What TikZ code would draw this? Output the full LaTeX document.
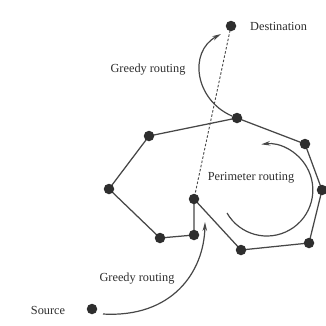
\documentclass[tikz,border=0pt]{standalone}
\usepackage{fontspec}
\setmainfont{Liberation Serif}
\usetikzlibrary{arrows.meta}
\definecolor{ink}{HTML}{2E2E2E}
\definecolor{edgec}{HTML}{474747}
\tikzset{
  pt/.style={circle,fill=ink,inner sep=0pt,minimum size=10.5pt},
  lbl/.style={font=\fontsize{12.3}{14}\selectfont,text=ink,inner sep=0pt},
  edge/.style={draw=edgec,line width=1.25pt},
  route/.style={draw=edgec,line width=1.2pt,-{Stealth[length=9pt,width=4.5pt]}},
  dashline/.style={draw=edgec,line width=0.9pt,dash pattern=on 2.5pt off 1.8pt}
}
\begin{document}
\begin{tikzpicture}[x=1pt,y=-1pt]
\useasboundingbox (0,0) rectangle (326,325);
\fill[white] (0,0) rectangle (326,325);
% nodes
\coordinate (dst) at (231,26);
\coordinate (top) at (237,118);
\coordinate (lu) at (149,136);
\coordinate (r1) at (305,144);
\coordinate (r2) at (322,190);
\coordinate (l) at (109,189);
\coordinate (mu) at (194,199);
\coordinate (ml) at (194,235);
\coordinate (bl) at (160,238);
\coordinate (b) at (241,250);
\coordinate (br) at (309,243);
\coordinate (src) at (92,309);
% edges
\draw[edge] (lu) -- (top) -- (r1) -- (r2) -- (br) -- (b) -- (mu) -- (ml) -- (bl) -- (l) -- (lu);
\draw[dashline] (dst) -- (mu);
% dots
\foreach \p in {dst,top,lu,r1,r2,l,mu,ml,bl,b,br,src}
  \node[pt] (n\p) at (\p) {};
% routing arrows
\coordinate (g1s) at (232,116);
\coordinate (g1e) at (221,34);
\draw[route] (g1s) .. controls (195,100) and (188,52) .. (g1e);
\coordinate (g2s) at (103,314);
\coordinate (g2e) at (205,222);
\draw[route] (g2s) .. controls (172,318) and (204,272) .. (g2e);
\coordinate (ps) at (227,213);
\draw[route] (ps) arc[start angle=150,end angle=-97,radius=46];
% labels
\node[lbl,anchor=west] (tdst) at (250,26) {Destination};
\node[lbl] (tg1) at (148,70) {Greedy routing};
\node[lbl] (tper) at (251,178) {Perimeter routing};
\node[lbl] (tg2) at (137,279) {Greedy routing};
\node[lbl] (tsrc) at (48,310) {Source};
\end{tikzpicture}
\end{document}
